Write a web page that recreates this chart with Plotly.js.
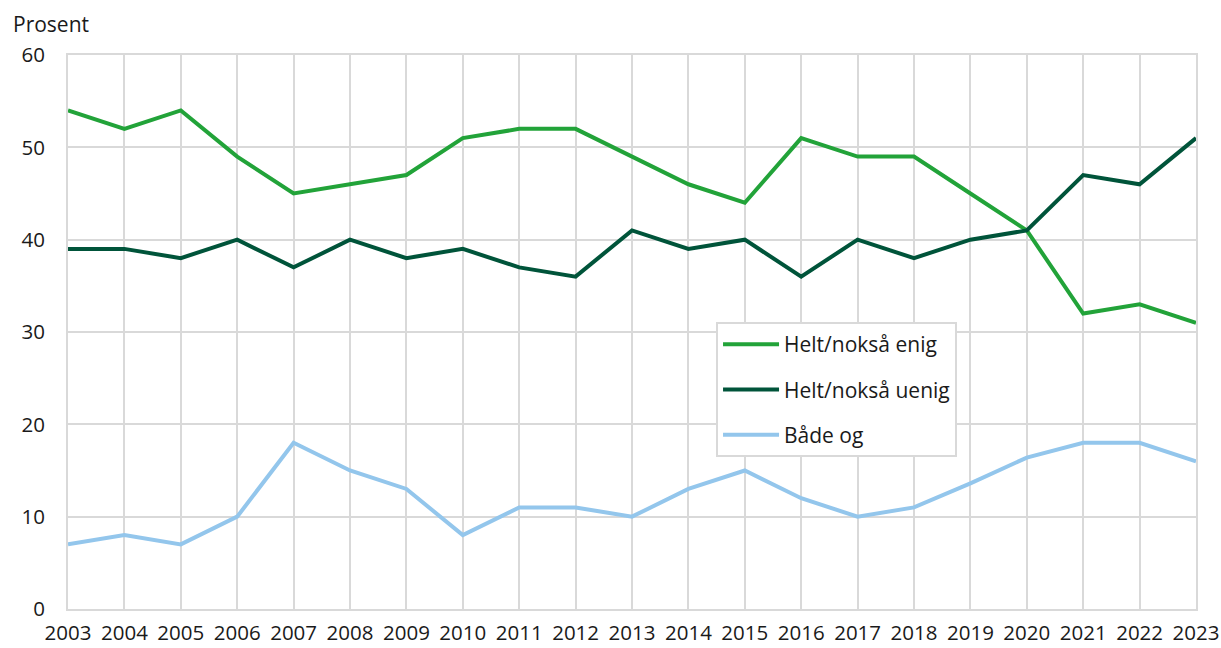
<!DOCTYPE html>
<html><head><meta charset="utf-8">
<script src="https://cdn.plot.ly/plotly-3.0.1.min.js"></script>
<style>body{margin:0;background:#fff}#c{width:1221px;height:648px}</style>
</head><body><div id="c"></div>
<script>
const years = [2003,2004,2005,2006,2007,2008,2009,2010,2011,2012,2013,2014,2015,2016,2017,2018,2019,2020,2021,2022,2023];
const enig = [54,52,54,49,45,46,47,51,52,52,49,46,44,51,49,49,45,41,32,33,31];
const uenig = [39,39,38,40,37,40,38,39,37,36,41,39,40,36,40,38,40,41,47,46,51];
const badeOg = [7,8,7,10,18,15,13,8,11,11,10,13,15,12,10,11,13.6,16.4,18,18,16];
const names = ["Helt/nokså enig","Helt/nokså uenig","Både og"];
const colors = ["#22a339","#00543a","#93c6ec"];
const series = [enig, uenig, badeOg];

const traces = series.map((s,i)=>({
  x: years, y: s, type:"scatter", mode:"lines", name: names[i],
  legendgroup: "g"+i,
  line:{color:colors[i], width:4}
}));

const layout = {
  width:1221, height:648,
  margin:{l:68, r:25, t:55, b:39},
  paper_bgcolor:"#fff", plot_bgcolor:"#fff",
  font:{family:"Open Sans", size:20.5, color:"#1a1a1a"},
  xaxis:{
    range:[2003,2023], tickmode:"array", tickvals:years, ticktext:years.map(String),
    showgrid:true, gridcolor:"#d9d9d9", gridwidth:2,
    showline:true, linecolor:"#d9d9d9", linewidth:2, mirror:true,
    ticks:"outside", ticklen:4, tickcolor:"rgba(0,0,0,0)", tickfont:{size:20.5}, zeroline:false
  },
  yaxis:{
    range:[0,60], dtick:10, showgrid:true, gridcolor:"#d9d9d9", gridwidth:2,
    showline:true, linecolor:"#d9d9d9", linewidth:2, mirror:true,
    ticks:"outside", ticklen:17, tickcolor:"rgba(0,0,0,0)", tickfont:{size:20.5}, zeroline:false
  },
  showlegend:true,
  legend:{
    x:0.5745, y:0.518, xanchor:"left", yanchor:"top",
    bgcolor:"#fff", bordercolor:"#d9d9d9", borderwidth:2,
    font:{size:21, color:"#1a1a1a"},
    traceorder:"grouped", tracegroupgap:15, itemwidth:56
  },
  annotations:[{
    text:"Prosent", xref:"paper", yref:"paper", x:-0.0505, y:1.056, xanchor:"left", yanchor:"middle",
    showarrow:false, font:{size:21, color:"#1a1a1a"}
  }]
};
Plotly.newPlot("c", traces, layout, {displayModeBar:false, staticPlot:true});
</script>
</body></html>
